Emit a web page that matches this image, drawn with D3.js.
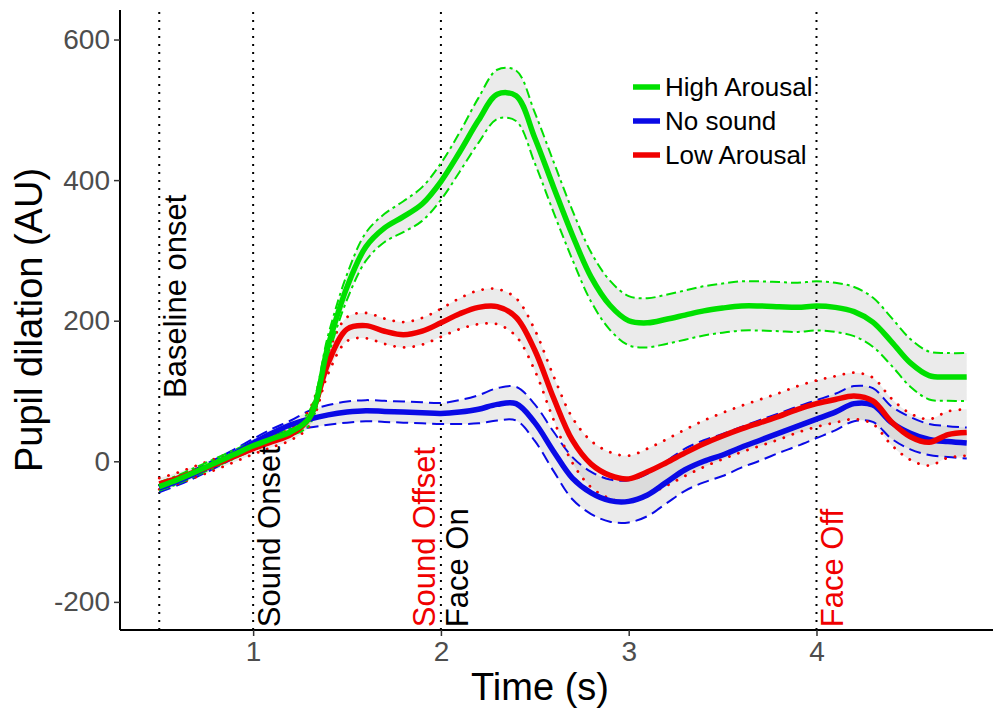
<!DOCTYPE html>
<html>
<head>
    <meta charset="utf-8">
    <title>Pupil dilation</title>
    <script src="https://d3js.org/d3.v7.min.js"></script>
    <style>
        body { margin: 0; background: #fff; }
        svg { display: block; font-family: "Liberation Sans", Arial, sans-serif; }
    </style>
</head>
<body>
    <svg id="chartdiv"></svg>
    <script>
        // time points (s)
        const times = [0.5,0.6,0.7,0.8,0.9,1.0,1.1,1.2,1.3,1.4,1.5,1.6,1.7,1.8,1.9,2.0,2.1,2.2,2.3,2.4,2.5,2.6,
                       2.7,2.8,2.9,3.0,3.1,3.2,3.3,3.4,3.5,3.6,3.7,3.8,3.9,4.0,4.1,4.2,4.3,4.4,4.5,4.6,4.7,4.8];

        // means
        const highMean = [-36,-26,-14,-2,10,22,32,42,62,165,248,305,332,348,366,398,440,485,522,520,460,390,
                          322,262,222,200,197,202,208,214,218,221,221,220,219,221,219,213,198,170,140,122,120,120];
        const noMean   = [-38,-28,-16,-3,11,26,40,52,60,66,70,72,71,70,69,68,70,74,81,82,55,14,
                          -24,-45,-56,-57,-48,-30,-12,0,9,20,30,40,50,60,70,82,80,55,40,31,28,26];
        const lowMean  = [-32,-24,-14,-4,7,18,28,38,62,140,188,193,185,180,185,197,210,219,220,205,158,90,
                          30,-4,-20,-25,-15,-2,12,25,36,46,55,64,74,82,88,93,86,56,35,27,38,41];

        // ribbon half widths
        const highSe = [6,6,6,6,6,6,6,6,10,15,18,20,20,22,24,26,28,32,35,36,36,36,
                        35,35,35,35,35,35,35,35,35,35,35,35,35,35,35,35,35,34,34,34,34,34];
        const noSe   = [6,6,6,6,6,6,6,6,12,14,15,15,15,15,15,15,17,20,23,24,26,28,
                        30,30,30,30,30,30,30,30,30,29,29,28,28,27,26,25,24,23,23,22,22,22];
        const lowSe  = [8,8,8,8,8,8,8,8,12,15,17,18,18,18,19,20,22,24,25,27,29,31,
                        32,33,33,33,33,33,33,33,33,33,33,33,33,33,33,33,33,33,33,33,33,33];

        const xTicks = [1, 2, 3, 4];
        const yTicks = [-200, 0, 200, 400, 600];

        const events = [
            { t: 0.5, label: "Baseline onset", color: "#000", side: 1, v: 90 },
            { t: 1, label: "Sound Onset", color: "#000", side: 1, v: -236 },
            { t: 2, label: "Sound Offset", color: "#f00000", side: -1, v: -236 },
            { t: 2, label: "Face On", color: "#000", side: 1, v: -236 },
            { t: 4, label: "Face Off", color: "#f00000", side: 1, v: -236 }
        ];

        const series = [
            { name: "No sound", mean: noMean, se: noSe, color: "#0a0ae6", dash: "12 6", cap: "butt", bw: 2 },
            { name: "Low Arousal", mean: lowMean, se: lowSe, color: "#f00000", dash: "0.1 9.5", cap: "round", bw: 2.8 },
            { name: "High Arousal", mean: highMean, se: highSe, color: "#00e000", dash: "10 4 3 4", cap: "butt", bw: 2 }
        ];
        const legendOrder = ["High Arousal", "No sound", "Low Arousal"];

        const width = 996, height = 709;
        const svg = d3.select("#chartdiv").attr("width", width).attr("height", height);

        const x = d3.scaleLinear().domain([0.291, 4.94]).range([120, 993]);
        const y = d3.scaleLinear().domain([-240, 642]).range([630, 10]);

        // ribbons
        series.forEach(s => {
            const area = d3.area()
                .x((d, i) => x(times[i]))
                .y0((d, i) => y(s.mean[i] - s.se[i]))
                .y1((d, i) => y(s.mean[i] + s.se[i]))
                .curve(d3.curveCatmullRom);
            svg.append("path").datum(s.mean)
                .attr("d", area)
                .attr("fill", "#999")
                .attr("fill-opacity", 0.2);
        });

        // event lines
        svg.selectAll(".vline").data([0.5, 1, 2, 4]).enter().append("line")
            .attr("x1", d => x(d)).attr("x2", d => x(d))
            .attr("y1", 12).attr("y2", 630)
            .attr("stroke", "#000").attr("stroke-width", 2)
            .attr("stroke-dasharray", "2 6");

        // bounds
        series.forEach(s => {
            [-1, 1].forEach(sign => {
                const line = d3.line()
                    .x((d, i) => x(times[i]))
                    .y((d, i) => y(s.mean[i] + sign * s.se[i]))
                    .curve(d3.curveCatmullRom);
                svg.append("path").datum(s.mean)
                    .attr("d", line)
                    .attr("fill", "none")
                    .attr("stroke", s.color)
                    .attr("stroke-width", s.bw)
                    .attr("stroke-linecap", s.cap)
                    .attr("stroke-dasharray", s.dash);
            });
        });

        // means
        series.forEach(s => {
            const line = d3.line()
                .x((d, i) => x(times[i]))
                .y(d => y(d))
                .curve(d3.curveCatmullRom);
            svg.append("path").datum(s.mean)
                .attr("d", line)
                .attr("fill", "none")
                .attr("stroke", s.color)
                .attr("stroke-width", 5.5);
        });

        // event labels
        events.forEach(e => {
            const px = x(e.t) + (e.side > 0 ? 27 : -6);
            svg.append("text")
                .attr("transform", `translate(${px},${y(e.v)}) rotate(-90)`)
                .attr("font-size", 31)
                .attr("fill", e.color)
                .text(e.label);
        });

        // axes
        const xAxis = svg.append("g").attr("transform", "translate(0,630)")
            .call(d3.axisBottom(x).tickValues(xTicks).tickSize(6).tickPadding(5).tickFormat(d => String(d)));
        const yAxis = svg.append("g").attr("transform", "translate(120,0)")
            .call(d3.axisLeft(y).tickValues(yTicks).tickSize(6).tickPadding(4).tickFormat(d => String(d)));
        [xAxis, yAxis].forEach(g => {
            g.select(".domain").attr("stroke", "#000").attr("stroke-width", 2);
            g.selectAll(".tick line").attr("stroke", "#333").attr("stroke-width", 1.5);
            g.selectAll(".tick text").attr("fill", "#4d4d4d").attr("font-size", 28)
                .attr("font-family", "Liberation Sans, Arial, sans-serif");
        });
        xAxis.select(".domain").attr("d", "M120,0H993");
        yAxis.select(".domain").attr("d", "M0,10V630");

        svg.append("text")
            .attr("x", 540).attr("y", 700)
            .attr("text-anchor", "middle")
            .attr("font-size", 38)
            .text("Time (s)");
        svg.append("text")
            .attr("transform", "translate(42,320) rotate(-90)")
            .attr("text-anchor", "middle")
            .attr("font-size", 38)
            .text("Pupil dilation (AU)");

        // legend
        legendOrder.forEach((name, i) => {
            const s = series.find(d => d.name === name);
            const ly = 87 + i * 34;
            svg.append("line")
                .attr("x1", 633).attr("x2", 660)
                .attr("y1", ly).attr("y2", ly)
                .attr("stroke", s.color).attr("stroke-width", 5.5);
            svg.append("text")
                .attr("x", 665).attr("y", ly + 9)
                .attr("font-size", 26)
                .text(name);
        });
    </script>
</body>
</html>
